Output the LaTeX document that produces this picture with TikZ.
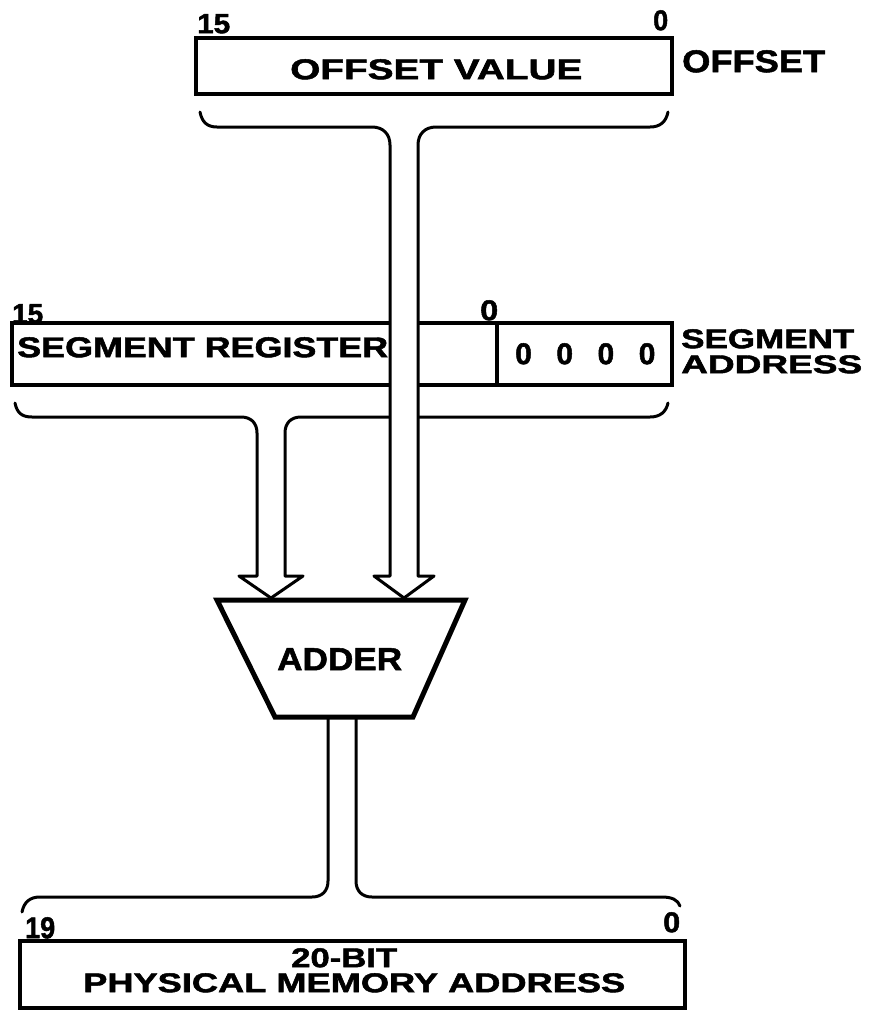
\documentclass[tikz,border=0pt]{standalone}
\usepackage{fontspec}
\setmainfont{Liberation Sans}[BoldFeatures={FakeBold=1.6}]
\usepackage{graphicx}
\newcommand\tx[3]{\resizebox{#1pt}{#2pt}{\bfseries #3}}
\begin{document}
\begin{tikzpicture}[x=1pt,y=-1pt,
  reg/.style={draw, line width=4.5pt, inner sep=0pt},
  bus/.style={draw, line width=3pt, line join=round, line cap=round},
  lbl/.style={inner sep=0pt, anchor=north west},
]
\useasboundingbox (0,0) rectangle (875,1013);

% ---------- segment register ----------
\node[reg, minimum width=660pt, minimum height=62pt] (segbox) at (342,354) {};
\draw[line width=4pt] (497,323) -- (497,385);

% segment bus
\draw[bus, fill=white] (15,403) .. controls (17,413) and (22,417) .. (32,417) -- (241,417)
  .. controls (251,417) and (257,423) .. (257,433) -- (257,576) -- (239,576) -- (271,598)
  -- (303,576) -- (285,576) -- (285,433) .. controls (285,423) and (291,417) .. (301,417)
  -- (650,417) .. controls (660,417) and (666,412) .. (668,403);

% ---------- offset ----------
\node[reg, minimum width=476pt, minimum height=56pt] (offbox) at (434,66) {};
\draw[bus, fill=white] (200,112) .. controls (202,122) and (207,127) .. (217,127) -- (372,127)
  .. controls (383,127) and (390,134) .. (390,145) -- (390,576) -- (374,576) -- (404,598)
  -- (434,576) -- (418,576) -- (418,145) .. controls (418,134) and (425,127) .. (436,127)
  -- (650,127) .. controls (660,127) and (666,122) .. (668,112);

% ---------- adder ----------
\draw[line width=5pt, line join=miter] (217,600) -- (465,600) -- (413,717) -- (275,717) -- cycle;
\node[lbl] (adder) at (277,648) {\tx{125}{22}{ADDER}};

% output bus
\draw[bus] (22,912) .. controls (24,902) and (30,897) .. (40,897) -- (312,897)
  .. controls (322,897) and (328,891) .. (328,881) -- (328,717);
\draw[bus] (356,717) -- (356,881) .. controls (356,891) and (362,897) .. (372,897)
  -- (662,897) .. controls (672,897) and (678,900) .. (680,906);

% ---------- physical address ----------
\node[reg, minimum width=665pt, minimum height=67pt] (physbox) at (352.5,974.5) {};

% ---------- texts ----------
\node[lbl] (off15) at (197,14) {\tx{33}{19}{15}};
\node[lbl] (off0) at (653,10) {\tx{15}{20}{0}};
\node[lbl] (offtxt) at (290,59) {\tx{292}{20}{OFFSET VALUE}};
\node[lbl] (offlbl) at (682,50) {\tx{143}{22}{OFFSET}};

\node[lbl] (seg15) at (12,304) {\tx{31}{19}{15}};
\node[lbl] (seg0) at (480,300) {\tx{18}{20}{0}};
\node[lbl] (segtxt) at (17,337) {\tx{371}{20}{SEGMENT REGISTER}};
\node[lbl] (zeros) at (515,343) {\fontsize{30pt}{30pt}\selectfont\bfseries\spaceskip=24.5pt 0 0 0 0};
\node[lbl] (seglbl1) at (681,329) {\tx{173}{19}{SEGMENT}};
\node[lbl] (seglbl2) at (681,355) {\tx{181}{18}{ADDRESS}};

\node[lbl] (ph19) at (25,917) {\tx{30}{21}{19}};
\node[lbl] (ph0) at (663,912) {\tx{17}{20}{0}};
\node[lbl] (phtxt1) at (291,948) {\tx{106}{19}{20-BIT}};
\node[lbl] (phtxt2) at (83,973) {\tx{542}{19}{PHYSICAL MEMORY ADDRESS}};
\end{tikzpicture}
\end{document}
